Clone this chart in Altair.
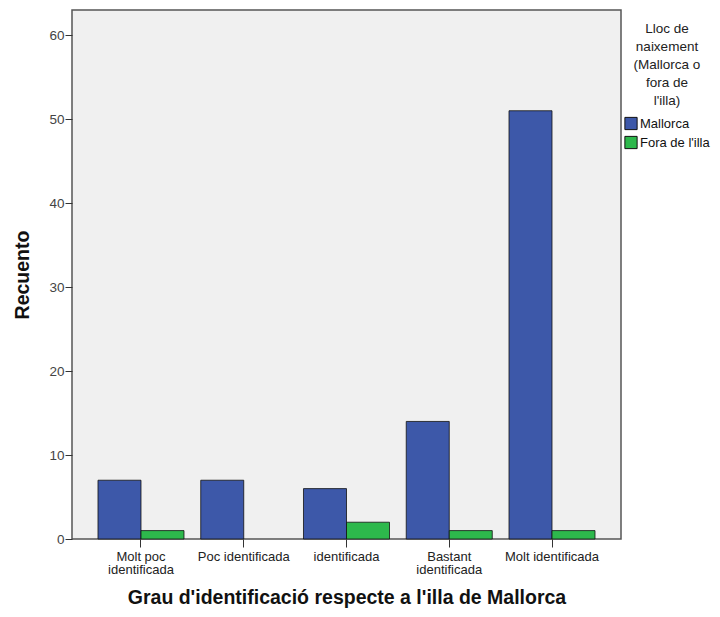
import altair as alt
import pandas as pd

categories = ["Molt poc identificada", "Poc identificada", "identificada",
              "Bastant identificada", "Molt identificada"]
cat_labels = ["Molt poc|identificada", "Poc identificada", "identificada",
              "Bastant|identificada", "Molt identificada"]
groups = ["Mallorca", "Fora de l'illa"]
mallorca = [7, 7, 6, 14, 51]
fora = [1, 0, 2, 1, 1]
colors = ["#3D58A9", "#2DB84C"]

rows = []
for c, m, f in zip(cat_labels, mallorca, fora):
    rows.append({"cat": c, "grp": groups[0], "n": m})
    rows.append({"cat": c, "grp": groups[1], "n": f})
df = pd.DataFrame(rows)

FONT = "Liberation Sans"

chart = alt.Chart(df).transform_filter(
    alt.datum.n > 0
).mark_bar(stroke="#111111", strokeWidth=1, strokeOpacity=0.8).encode(
    x=alt.X("cat:N", sort=cat_labels,
            title="Grau d'identificació respecte a l'illa de Mallorca",
            scale=alt.Scale(domain=cat_labels, paddingInner=0.163, paddingOuter=0.253),
            axis=alt.Axis(labelAngle=0, labelExpr="split(datum.label, '|')",
                          labelFontSize=13, labelColor="#222222", labelFont=FONT,
                          labelPadding=3, labelLineHeight=13.5,
                          tickSize=8, tickColor="#333333", domain=False,
                          titleFont=FONT, titleFontSize=19.5, titleFontWeight="bold",
                          titleColor="#111111", titlePadding=12, labelBaseline="top")),
    xOffset=alt.XOffset("grp:N", sort=groups, scale=alt.Scale(domain=groups, paddingInner=0, paddingOuter=0)),
    y=alt.Y("n:Q", title="Recuento",
            scale=alt.Scale(domain=[0, 63], nice=False),
            axis=alt.Axis(values=[0, 10, 20, 30, 40, 50, 60], grid=False, domain=False,
                          tickSize=7, tickColor="#333333", labelFontSize=13.5,
                          labelColor="#444444", labelFont=FONT, labelPadding=1,
                          titleFont=FONT, titleFontSize=19.5, titleFontWeight="bold",
                          titleColor="#111111", titlePadding=16)),
    fill=alt.Fill("grp:N", sort=groups,
                  scale=alt.Scale(domain=groups, range=colors),
                  legend=alt.Legend(
                      title=["Lloc de", "naixement", "(Mallorca o", "fora de", "l'illa)"],
                      orient="none", legendX=552, legendY=12,
                      titleFont=FONT, titleFontSize=13.5, titleFontWeight="normal",
                      titleColor="#222222", titleAlign="center", titleAnchor="middle",
                      titleLineHeight=18, titlePadding=9,
                      labelFont=FONT, labelFontSize=13, labelColor="#111111",
                      symbolType="square", symbolSize=150, symbolStrokeColor="#111111",
                      symbolStrokeWidth=1, rowPadding=1, labelOffset=2)),
).properties(
    width=549, height=529,
    padding={"left": 64, "top": 2, "right": 90, "bottom": 70},
    autosize=alt.AutoSizeParams(type="none"),
).configure(background="white").configure_view(
    fill="#F0F0F0", stroke="#555555", strokeWidth=1.5
)

chart.save("out.html", embed_options={"renderer": "svg", "actions": False})
